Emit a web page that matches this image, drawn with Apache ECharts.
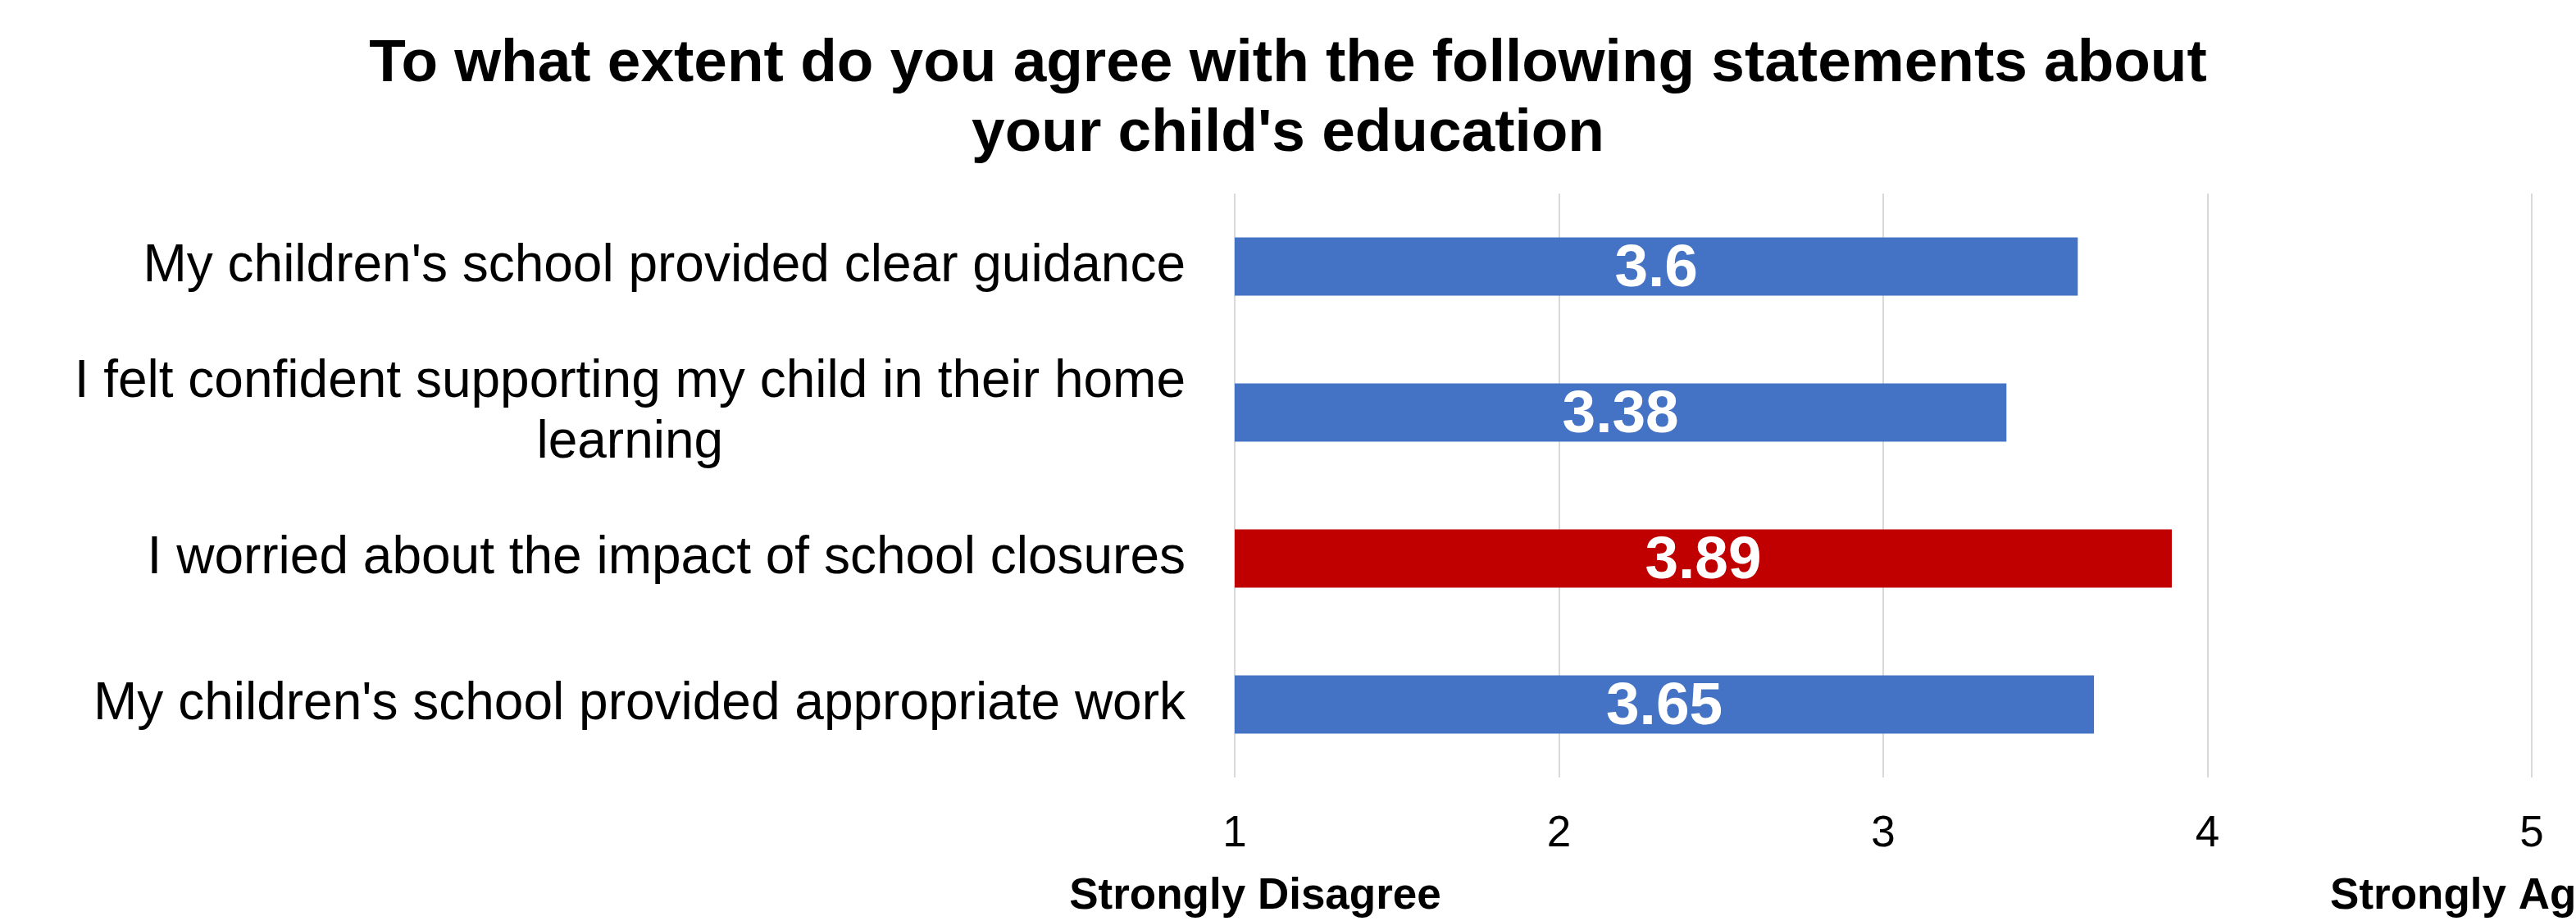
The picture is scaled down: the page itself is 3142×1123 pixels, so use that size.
<!DOCTYPE html>
<html lang="en">
<head>
    <meta charset="UTF-8">
    <title>index</title>
    <script src="https://cdn.jsdelivr.net/npm/echarts@6/dist/echarts.min.js"></script>
    <style>
        html, body { margin: 0; padding: 0; background: #fff; }
        #chart { width: 3142px; height: 1123px; }
    </style>
</head>
<body>
<div id="chart"></div>
<script>
    // data
    var categories = [
        "My children's school provided clear guidance",
        "I felt confident supporting my child in their home\nlearning",
        "I worried about the impact of school closures",
        "My children's school provided appropriate work"
    ];
    var scores = [3.6, 3.38, 3.89, 3.65];
    var barColors = ['#4472C4', '#4472C4', '#C00000', '#4472C4'];
    var tickLabels = ['1', '2', '3', '4', '5'];
    var endLabels = ['Strongly Disagree', 'Strongly Agree'];

    var FONT = '"Liberation Sans", Arial, sans-serif';
    var chart = echarts.init(document.getElementById('chart'));

    var option = {
        backgroundColor: '#fff',
        animation: false,
        title: {
            text: 'To what extent do you agree with the following statements about\nyour child\'s education',
            left: 'center',
            top: 36,
            padding: 0,
            textStyle: {
                fontFamily: FONT,
                fontWeight: 'bold',
                fontSize: 73,
                lineHeight: 85,
                color: '#000'
            }
        },
        grid: {
            left: 1506,
            right: 54,
            top: 236,
            bottom: 175
        },
        xAxis: {
            type: 'value',
            min: 1,
            max: 5,
            interval: 1,
            axisLine: { show: false },
            axisTick: { show: false },
            splitLine: { show: true, lineStyle: { color: '#d9d9d9', width: 2 } },
            axisLabel: {
                margin: 43,
                fontFamily: FONT,
                fontSize: 53,
                color: '#000',
                formatter: function (v) { return tickLabels[v - 1]; }
            }
        },
        yAxis: {
            type: 'category',
            data: categories,
            inverse: true,
            axisLine: { show: false },
            axisTick: { show: false },
            axisLabel: {
                margin: 60,
                fontFamily: FONT,
                fontSize: 64,
                color: '#000',
                formatter: function (v) {
                    return v.split('\n').map(function (s) { return '{a|' + s + '}'; }).join('\n');
                },
                rich: {
                    a: { align: 'center', fontFamily: FONT, fontSize: 64, lineHeight: 74, color: '#000' }
                }
            }
        },
        series: [{
            type: 'bar',
            barWidth: '40%',
            data: scores.map(function (v, i) {
                return { value: v, itemStyle: { color: barColors[i] } };
            }),
            label: {
                show: true,
                position: 'inside',
                offset: [0, 4],
                color: '#fff',
                fontFamily: FONT,
                fontWeight: 'bold',
                fontSize: 73,
                formatter: function (p) { return String(p.value); }
            }
        }],
        graphic: [
            {
                type: 'text',
                x: 1531, y: 1093,
                style: {
                    text: endLabels[0], fontFamily: FONT, fontWeight: 'bold', fontSize: 53,
                    fill: '#000', align: 'center', verticalAlign: 'middle'
                }
            },
            {
                type: 'text',
                x: 3032, y: 1093,
                style: {
                    text: endLabels[1], fontFamily: FONT, fontWeight: 'bold', fontSize: 53,
                    fill: '#000', align: 'center', verticalAlign: 'middle'
                }
            }
        ]
    };
    chart.setOption(option);
</script>
</body>
</html>
